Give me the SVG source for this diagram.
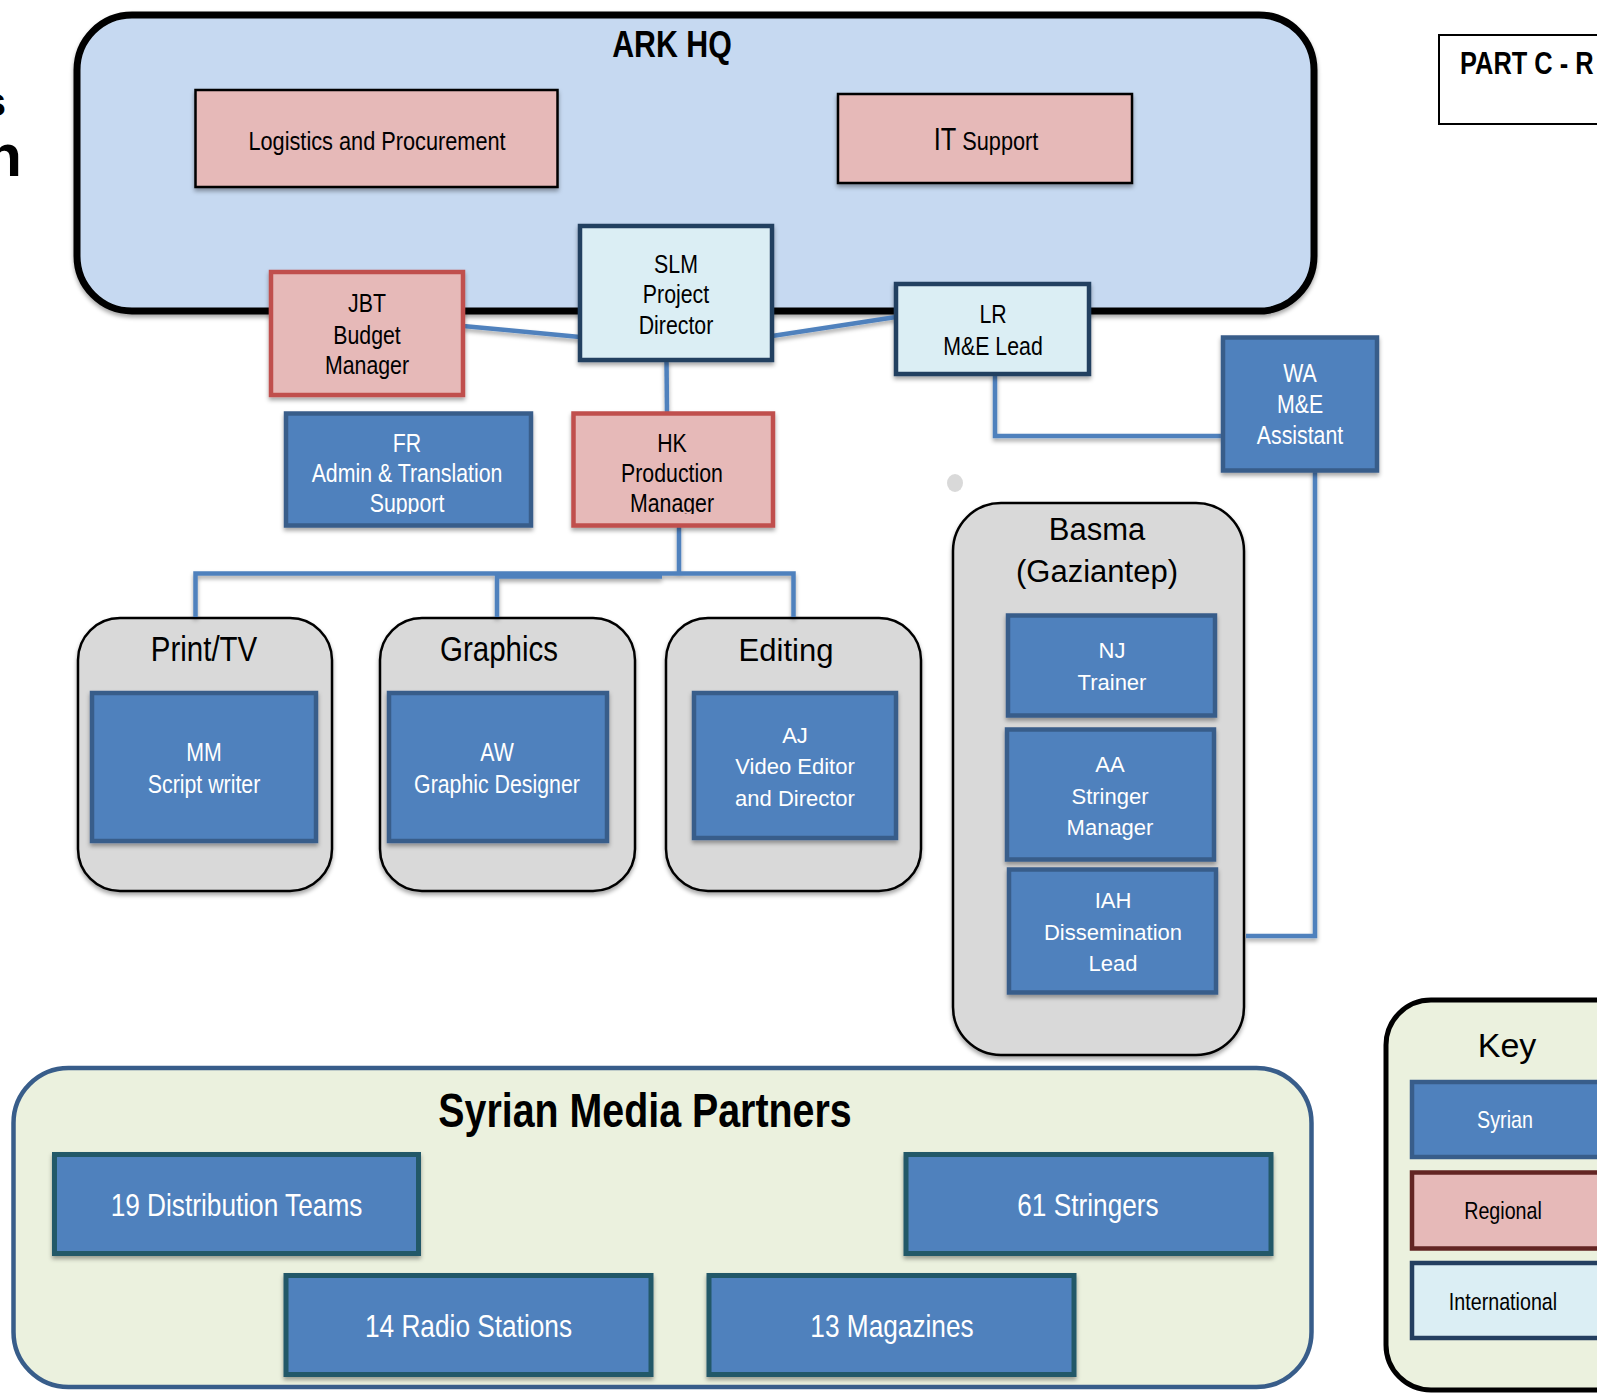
<svg xmlns="http://www.w3.org/2000/svg" width="1597" height="1394" viewBox="0 0 1597 1394">
<defs>
<style>
.n{font-family:"Liberation Sans",Arial,sans-serif;text-anchor:middle}
.r{font-family:"Liberation Sans",Arial,sans-serif;text-anchor:middle}
.b{font-weight:bold}
.k{fill:#000}
.w{fill:#fff}
.t26{font-size:26px}
.t22{font-size:22px}
.pink{fill:#E6B9B8}
.blue{fill:#4F81BD;stroke:#385D8A;stroke-width:4.5}
.red{fill:#E6B9B8;stroke:#C0504D;stroke-width:4.5}
.intl{fill:#DBEEF4;stroke:#243F60;stroke-width:4.5}
.grp{fill:#D9D9D9;stroke:#000;stroke-width:2.5}
.smp{fill:#4F81BD;stroke:#215968;stroke-width:5}
.con{fill:none;stroke:#4F81BD;stroke-width:4.5}
</style>
<filter id="sh" x="-10%" y="-10%" width="120%" height="130%">
<feDropShadow dx="0" dy="3" stdDeviation="2" flood-color="#000" flood-opacity="0.35"/>
</filter>
<clipPath id="clipFR"><rect x="-200" y="413" width="400" height="101"/></clipPath>
<clipPath id="clipHK"><rect x="-200" y="413" width="400" height="101"/></clipPath>
</defs>
<rect width="1597" height="1394" fill="#fff"/>

<g id="edge-text">
<text class="r b k" x="6" y="116" style="font-size:40px;text-anchor:end">s</text>
<text class="r b k" x="22" y="176" style="font-size:60px;text-anchor:end">n</text>
</g>

<g id="part-c">
<rect x="1439" y="35" width="220" height="89" fill="#fff" stroke="#000" stroke-width="2"/>
<g transform="translate(1460 0) scale(0.82 1)"><text class="n b k" x="0" y="74" style="font-size:31px;text-anchor:start">PART C - R</text></g>
</g>

<g id="ark-hq">
<rect x="77" y="15" width="1237" height="296" rx="55" fill="#C6D9F1" stroke="#000" stroke-width="7" filter="url(#sh)"/>
<g transform="translate(672 0) scale(0.82 1)"><text class="n b k" x="0" y="57" style="font-size:37px">ARK HQ</text></g>
</g>

<g id="syrian-media-partners">
<rect x="13.5" y="1068" width="1298" height="319" rx="55" fill="#EBF1DE" stroke="#385D8A" stroke-width="4.5"/>
<g transform="translate(645 0) scale(0.82 1)"><text class="n b k" x="0" y="1127" style="font-size:48px">Syrian Media Partners</text></g>
</g>

<g id="key">
<rect x="1386" y="1000" width="260" height="390" rx="45" fill="#EBF1DE" stroke="#000" stroke-width="5"/>
<text class="r k" x="1507" y="1057" style="font-size:34px">Key</text>
</g>

<g id="print-tv">
<rect class="grp" x="78" y="618" width="254" height="273" rx="42" filter="url(#sh)"/>
<g transform="translate(204 0) scale(0.82 1)"><text class="n k" x="0" y="661" style="font-size:36px">Print/TV</text></g>
</g>
<g id="graphics">
<rect class="grp" x="380" y="618" width="255" height="273" rx="42" filter="url(#sh)"/>
<g transform="translate(499 0) scale(0.82 1)"><text class="n k" x="0" y="661" style="font-size:36px">Graphics</text></g>
</g>
<g id="editing">
<rect class="grp" x="666" y="618" width="255" height="273" rx="42" filter="url(#sh)"/>
<text class="r k" x="786" y="661" style="font-size:31px">Editing</text>
</g>
<g id="basma">
<rect class="grp" x="953" y="503" width="291" height="552" rx="48" filter="url(#sh)"/>
<text class="r k" x="1097" y="540" style="font-size:31px">Basma</text>
<text class="r k" x="1097" y="582" style="font-size:31px">(Gaziantep)</text>
<ellipse cx="955" cy="483" rx="8" ry="9" fill="#D9D9D9"/>
</g>

<g id="connectors" filter="url(#sh)">
<line class="con" x1="463" y1="326" x2="580" y2="337"/>
<line class="con" x1="772" y1="336" x2="896" y2="317"/>
<line class="con" x1="666.5" y1="360" x2="667" y2="414"/>
<polyline class="con" points="995,374 995,436 1223,436"/>
<polyline class="con" points="679,525 679,573.5"/>
<polyline class="con" points="195.5,617 195.5,573.5 793.5,573.5 793.5,617"/>
<polyline class="con" points="497,617 497,576.5 662,576.5"/>
<polyline class="con" points="1315,470 1315,936 1246,936"/>
</g>

<g id="logistics">
<rect x="195.5" y="90" width="362" height="97" class="pink" stroke="#000" stroke-width="2.5" filter="url(#sh)"/>
<g transform="translate(377 0) scale(0.82 1)"><text class="n k" x="0" y="150" style="font-size:26.5px">Logistics and Procurement</text></g>
</g>
<g id="it-support">
<rect x="838" y="94" width="294" height="89" class="pink" stroke="#000" stroke-width="2.5" filter="url(#sh)"/>
<g transform="translate(986 0) scale(0.82 1)"><text class="n k" x="0" y="150" style="font-size:26.5px"><tspan style="font-size:31px">IT</tspan> Support</text></g>
</g>
<g id="slm">
<rect class="intl" x="580" y="226" width="192" height="134" filter="url(#sh)"/>
<g transform="translate(676 0) scale(0.82 1)"><text class="n k t26" x="0"><tspan x="0" y="273">SLM</tspan><tspan x="0" y="303">Project</tspan><tspan x="0" y="334">Director</tspan></text></g>
</g>
<g id="lr">
<rect class="intl" x="896" y="284" width="193" height="90" filter="url(#sh)"/>
<g transform="translate(993 0) scale(0.82 1)"><text class="n k t26" x="0"><tspan x="0" y="323">LR</tspan><tspan x="0" y="355">M&amp;E Lead</tspan></text></g>
</g>
<g id="jbt">
<rect class="red" x="271" y="272" width="192" height="123" filter="url(#sh)"/>
<g transform="translate(367 0) scale(0.82 1)"><text class="n k t26" x="0"><tspan x="0" y="312.5">JBT</tspan><tspan x="0" y="344">Budget</tspan><tspan x="0" y="374.5">Manager</tspan></text></g>
</g>
<g id="fr">
<rect class="blue" x="286" y="413.5" width="245" height="112" filter="url(#sh)"/>
<g transform="translate(407 0) scale(0.82 1)"><text class="n w t26" x="0" clip-path="url(#clipFR)"><tspan x="0" y="452">FR</tspan><tspan x="0" y="482.5">Admin &amp; Translation</tspan><tspan x="0" y="512.5">Support</tspan></text></g>
</g>
<g id="hk">
<rect class="red" x="573.5" y="413.5" width="199.5" height="112" filter="url(#sh)"/>
<g transform="translate(672 0) scale(0.82 1)"><text class="n k t26" x="0" clip-path="url(#clipHK)"><tspan x="0" y="452">HK</tspan><tspan x="0" y="482.5">Production</tspan><tspan x="0" y="512.5">Manager</tspan></text></g>
</g>
<g id="wa">
<rect class="blue" x="1223" y="337.5" width="154" height="133" filter="url(#sh)"/>
<g transform="translate(1300 0) scale(0.82 1)"><text class="n w t26" x="0"><tspan x="0" y="382">WA</tspan><tspan x="0" y="413">M&amp;E</tspan><tspan x="0" y="444">Assistant</tspan></text></g>
</g>
<g id="mm">
<rect class="blue" x="92" y="693" width="224" height="148" filter="url(#sh)"/>
<g transform="translate(204 0) scale(0.82 1)"><text class="n w t26" x="0"><tspan x="0" y="761">MM</tspan><tspan x="0" y="793">Script writer</tspan></text></g>
</g>
<g id="aw">
<rect class="blue" x="389" y="693" width="218" height="148" filter="url(#sh)"/>
<g transform="translate(497 0) scale(0.82 1)"><text class="n w t26" x="0"><tspan x="0" y="761">AW</tspan><tspan x="0" y="793">Graphic Designer</tspan></text></g>
</g>
<g id="aj">
<rect class="blue" x="694" y="693" width="202" height="145" filter="url(#sh)"/>
<text class="r w t22" x="795"><tspan x="795" y="743">AJ</tspan><tspan x="795" y="774">Video Editor</tspan><tspan x="795" y="805.5">and Director</tspan></text>
</g>
<g id="nj">
<rect class="blue" x="1008" y="615.5" width="207" height="100" filter="url(#sh)"/>
<text class="r w t22" x="1112"><tspan x="1112" y="658">NJ</tspan><tspan x="1112" y="689.5">Trainer</tspan></text>
</g>
<g id="aa">
<rect class="blue" x="1007" y="729.5" width="207" height="130" filter="url(#sh)"/>
<text class="r w t22" x="1110"><tspan x="1110" y="772">AA</tspan><tspan x="1110" y="803.5">Stringer</tspan><tspan x="1110" y="835">Manager</tspan></text>
</g>
<g id="iah">
<rect class="blue" x="1009" y="869.5" width="207" height="123" filter="url(#sh)"/>
<text class="r w t22" x="1113"><tspan x="1113" y="908">IAH</tspan><tspan x="1113" y="940">Dissemination</tspan><tspan x="1113" y="970.5">Lead</tspan></text>
</g>

<g id="distribution-teams">
<rect class="smp" x="54.5" y="1154.5" width="364" height="99" filter="url(#sh)"/>
<g transform="translate(236.5 0) scale(0.82 1)"><text class="n w" x="0" y="1216.5" style="font-size:32px">19 Distribution Teams</text></g>
</g>
<g id="stringers">
<rect class="smp" x="906" y="1154.5" width="365" height="99" filter="url(#sh)"/>
<g transform="translate(1088 0) scale(0.82 1)"><text class="n w" x="0" y="1216.5" style="font-size:32px">61 Stringers</text></g>
</g>
<g id="radio-stations">
<rect class="smp" x="286" y="1275.5" width="365" height="99" filter="url(#sh)"/>
<g transform="translate(468.5 0) scale(0.82 1)"><text class="n w" x="0" y="1337.5" style="font-size:32px">14 Radio Stations</text></g>
</g>
<g id="magazines">
<rect class="smp" x="709" y="1275.5" width="365" height="99" filter="url(#sh)"/>
<g transform="translate(892 0) scale(0.82 1)"><text class="n w" x="0" y="1337.5" style="font-size:32px">13 Magazines</text></g>
</g>

<g id="key-syrian">
<rect class="blue" x="1412" y="1082" width="200" height="75"/>
<g transform="translate(1505 0) scale(0.82 1)"><text class="n w" x="0" y="1128.5" style="font-size:24px">Syrian</text></g>
</g>
<g id="key-regional">
<rect x="1412" y="1172.5" width="200" height="76" fill="#E6B9B8" stroke="#632523" stroke-width="4.5"/>
<g transform="translate(1503 0) scale(0.82 1)"><text class="n k" x="0" y="1219.5" style="font-size:24px">Regional</text></g>
</g>
<g id="key-international">
<rect class="intl" x="1412" y="1263" width="200" height="75"/>
<g transform="translate(1503 0) scale(0.82 1)"><text class="n k" x="0" y="1310" style="font-size:24px">International</text></g>
</g>
</svg>
